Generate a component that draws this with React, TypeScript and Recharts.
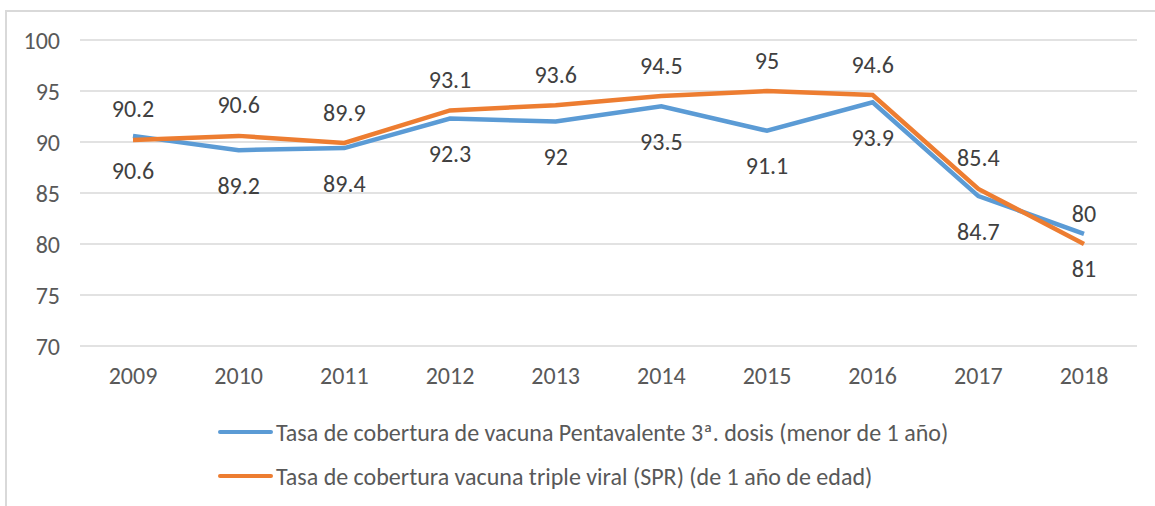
import { CartesianGrid, LabelList, Line, LineChart, XAxis, YAxis } from 'recharts'

const years = ['2009', '2010', '2011', '2012', '2013', '2014', '2015', '2016', '2017', '2018']
const pentavalente = [90.6, 89.2, 89.4, 92.3, 92, 93.5, 91.1, 93.9, 84.7, 81]
const tripleViral = [90.2, 90.6, 89.9, 93.1, 93.6, 94.5, 95, 94.6, 85.4, 80]
const yTicks = [70, 75, 80, 85, 90, 95, 100]

const seriesNames = {
  penta: 'Tasa de cobertura de vacuna Pentavalente 3ª. dosis (menor de 1 año)',
  spr: 'Tasa de cobertura vacuna triple viral (SPR) (de 1 año de edad)',
}

const BLUE = '#5B9BD5'
const ORANGE = '#ED7D31'
const FONT = "Carlito, 'Liberation Sans', Arial, sans-serif"
const FS = 24

const chartData = years.map((year, i) => ({
  year,
  penta: pentavalente[i],
  spr: tripleViral[i],
}))

const makeLabel =
  (offset: number) =>
  ({ x, y, value }: any) => (
    <text
      x={x}
      y={y + offset}
      dominantBaseline="central"
      fill="#404040"
      fontFamily={FONT}
      fontSize={FS}
      textAnchor="middle"
    >
      {value}
    </text>
  )

export default function App() {
  return (
    <div
      style={{
        position: 'absolute',
        left: 5,
        top: 10,
        width: 1160,
        height: 510,
        borderTop: '2px solid #d9d9d9',
        borderLeft: '2px solid #d9d9d9',
        background: '#fff',
        fontFamily: FONT,
      }}
    >
      <LineChart
        data={chartData}
        height={494}
        margin={{ top: 28, right: 18, bottom: 120, left: 0 }}
        width={1148}
      >
        <CartesianGrid horizontal stroke="#d9d9d9" strokeWidth={1.5} vertical={false} />
        <XAxis
          axisLine={false}
          dataKey="year"
          height={40}
          padding={{ left: 53, right: 53 }}
          tick={{ fill: '#595959', fontSize: FS, fontFamily: FONT }}
          tickLine={false}
          tickMargin={15}
        />
        <YAxis
          axisLine={false}
          domain={[70, 100]}
          tick={{ fill: '#595959', fontSize: FS, fontFamily: FONT }}
          tickLine={false}
          tickMargin={14}
          ticks={yTicks}
          width={73}
        />
        <Line
          dataKey="penta"
          dot={false}
          isAnimationActive={false}
          stroke={BLUE}
          strokeWidth={4.5}
          type="linear"
        >
          <LabelList content={makeLabel(35)} dataKey="penta" />
        </Line>
        <Line
          dataKey="spr"
          dot={false}
          isAnimationActive={false}
          stroke={ORANGE}
          strokeWidth={4.5}
          type="linear"
        >
          <LabelList content={makeLabel(-31)} dataKey="spr" />
        </Line>
      </LineChart>
      {/* legend */}
      {[
        { name: seriesNames.penta, color: BLUE, top: 420 },
        { name: seriesNames.spr, color: ORANGE, top: 464 },
      ].map((item) => (
        <div
          key={item.name}
          style={{
            position: 'absolute',
            left: 211,
            top: item.top - 14,
            height: 28,
            display: 'flex',
            alignItems: 'center',
            whiteSpace: 'nowrap',
            color: '#595959',
            fontSize: FS,
          }}
        >
          <span
            style={{
              display: 'inline-block',
              width: 55,
              height: 4.5,
              borderRadius: 2,
              background: item.color,
              marginRight: 3,
            }}
          />
          {item.name}
        </div>
      ))}
    </div>
  )
}
